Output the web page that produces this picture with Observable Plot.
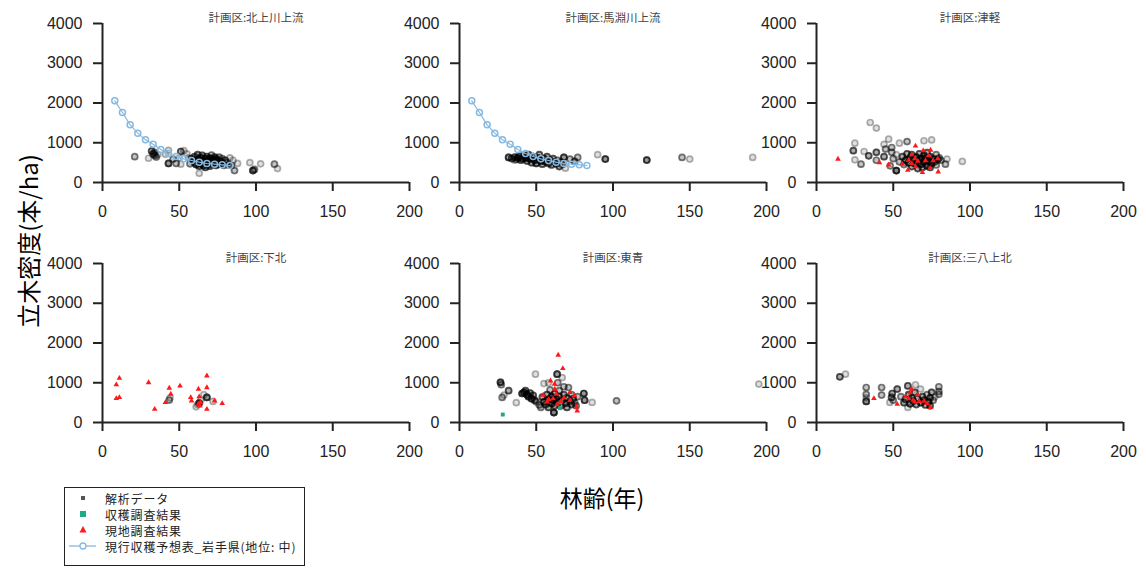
<!DOCTYPE html>
<html>
<head>
<meta charset="utf-8">
<script src="https://cdn.jsdelivr.net/npm/d3@7"></script>
<script src="https://cdn.jsdelivr.net/npm/@observablehq/plot@0.6"></script>
<style>
  html, body { margin: 0; padding: 0; background: #fff; }
  #chart { position: relative; width: 1146px; height: 570px; overflow: hidden; background: #fff; }
  #chart svg.plot-panel { position: absolute; }
  .ytitle { position: absolute; left: 27px; top: 241px; transform: translate(-50%, -50%) rotate(-90deg);
    font-family: "Noto Sans CJK JP", sans-serif; font-size: 24px; color: #000; white-space: nowrap; }
  .xtitle { position: absolute; left: 602px; top: 497px; transform: translate(-50%, -50%);
    font-family: "Noto Sans CJK JP", sans-serif; font-size: 23px; color: #000; white-space: nowrap; }
  .legend { position: absolute; left: 64px; top: 487px; width: 241px; height: 79px; border: 1px solid #222;
    font-family: "Noto Sans CJK JP", sans-serif; font-size: 12px; letter-spacing: 0.8px; color: #222; box-sizing: border-box; }
  .legend .row { position: absolute; left: 0; height: 15px; white-space: nowrap; }
  .legend .row svg { position: absolute; left: 2px; top: -0.5px; }
  .legend .row span { position: absolute; left: 40px; top: 0; display: inline-block; height: 15px; line-height: 15px; overflow: visible; }
</style>
</head>
<body>
<div id="chart"></div>
<script>
// ---------- data ----------
const xTicks = [0, 50, 100, 150, 200];
const yTicks = [0, 1000, 2000, 3000, 4000];
const xTitle = "林齢(年)";
const yTitle = "立木密度(本/ha)";
const seriesNames = ["解析データ", "収穫調査結果", "現地調査結果", "現行収穫予想表_岩手県(地位: 中)"];
const panelTitles = ["計画区:北上川上流", "計画区:馬淵川上流", "計画区:津軽", "計画区:下北", "計画区:東青", "計画区:三八上北"];

// 現行収穫予想表 (岩手県, 地位中): age, density
const tableAge = [8, 13, 18, 23, 28, 33, 38, 43, 48, 53, 58, 63, 68, 73, 78, 83];
const tableDensity = [2054, 1761, 1451, 1241, 1073, 964, 830, 730, 654, 595, 553, 512, 478, 461, 444, 428];

// 解析データ: [age, density, overlapping records]
const analysisKitakami = [
  [21,650,2],[30,610,1],[32,790,3],[33,720,3],[34,680,2],[35,640,2],[34,760,2],[36,700,1],
  [41,710,1],[43,810,1],[43,480,4],[46,590,2],[48,480,2],[51,460,1],[50,620,1],[51,780,3],[53,800,1],[55,720,1],
  [57,470,2],[58,600,3],[59,540,3],[60,650,3],[60,500,2],[61,450,4],[62,580,4],[62,700,3],[63,520,5],[63,410,3],
  [64,620,4],[64,470,4],[65,560,5],[65,680,3],[66,430,4],[66,520,4],[67,600,4],[67,380,3],[68,500,4],[68,650,3],
  [69,450,4],[69,560,4],[70,610,4],[70,410,3],[71,520,4],[71,690,2],[72,470,4],[72,580,4],[73,530,4],[73,640,3],
  [74,430,3],[74,600,3],[75,500,3],[75,560,3],[76,640,2],[76,460,3],[77,540,3],[78,480,3],[78,600,2],[79,430,2],
  [80,560,3],[81,500,2],[82,440,2],[83,620,1],[84,430,2],[85,560,1],[86,300,2],[88,480,1],[63,230,1],[56,620,1],
  [96,500,1],[98,300,4],[99,330,2],[103,470,1],[112,460,2],[114,350,1]
];
const analysisMabechi = [
  [32,630,4],[34,600,3],[36,640,3],[37,580,2],[38,620,4],[39,660,3],[40,560,3],[41,600,4],[42,680,3],[43,620,4],
  [44,540,3],[45,700,3],[46,600,4],[47,500,3],[48,650,4],[49,560,4],[50,480,4],[51,620,4],[52,700,3],[53,540,4],
  [54,460,3],[55,600,4],[56,520,4],[57,650,3],[58,480,3],[59,560,3],[60,440,3],[61,600,3],[62,520,2],[63,470,3],
  [64,560,2],[65,400,3],[66,520,2],[67,450,2],[68,630,4],[69,360,1],[72,590,2],[75,530,3],[77,630,2],[36,560,1],
  [44,600,1],[90,700,1],[95,590,4],[122,565,4],[145,630,2],[150,590,1],[191,630,1]
];
const analysisTsugaru = [
  [35,1510,1],[39,1370,1],[25,990,1],[24,800,3],[25,570,1],[29,460,2],[31,780,1],[34,670,3],[39,760,3],[39,560,2],
  [44,650,3],[45,840,2],[44,960,1],[47,1090,1],[49,880,2],[49,760,2],[48,420,2],[52,300,5],[54,990,1],[59,1030,2],
  [70,1050,1],[75,1070,1],[95,530,1],[85,590,1],[84,460,2],
  [50,600,2],[52,700,1],[54,520,2],[56,650,3],[57,450,2],[58,560,4],[59,720,3],[60,500,4],[61,620,4],[62,400,3],
  [62,700,3],[63,560,4],[64,470,4],[65,640,4],[66,350,3],[66,540,4],[67,720,3],[68,460,4],[68,600,4],[69,380,3],
  [70,680,4],[70,520,4],[71,600,4],[72,420,4],[72,750,3],[73,540,4],[74,650,3],[74,380,3],[75,480,4],[76,600,3],
  [77,520,3],[78,700,2],[78,440,2],[79,580,3],[80,620,2],[81,560,2]
];
const analysisShimokita = [
  [43.5,565,2],[44,620,1],[61,395,1],[63,490,4],[62,450,1],[68,630,4],[66,700,1],[72,530,1],[64,560,1]
];
const analysisToao = [
  [26.7,1010,4],[27.2,950,2],[27.8,630,2],[29,690,1],[32,800,3],[37,500,1],[40.8,730,4],[42,760,4],[43,800,3],
  [44,700,4],[45,650,4],[46,740,3],[47,600,4],[48,680,3],[49,560,3],[50,520,2],[49.5,1215,1],[52,440,2],[53,380,2],
  [54,640,3],[55,520,4],[56,450,3],[57,700,3],[58,580,4],[58,380,3],[59,820,2],[60,650,4],[60,480,4],[61,560,4],
  [61.5,250,5],[62,720,3],[62,420,3],[63,600,4],[63.6,1215,4],[64,1000,2],[64,500,4],[65,800,2],[65,650,3],
  [66,420,3],[66.9,1130,1],[67,560,4],[68,700,3],[68,900,2],[69,480,3],[70,620,3],[70,380,3],[71,880,2],[72,540,3],
  [73,450,3],[73,700,2],[74,600,3],[75,500,2],[76,420,2],[77,650,2],[81,730,4],[81.5,560,4],[86.4,505,1],
  [102.3,545,2],[195,966,1],[55,980,1],[58,1000,1]
];
const analysisSannohe = [
  [15.2,1150,3],[18.9,1215,1],[32.4,880,2],[32.4,710,2],[32.4,620,1],[32.4,530,4],[42.4,880,2],[42.4,690,2],
  [47.8,505,1],[49.3,730,3],[48.9,630,3],[52.6,840,3],[50,560,2],[55,650,2],[57,500,3],[58,580,3],[59.5,920,3],
  [59.5,380,1],[60,700,3],[61,470,4],[62,620,3],[63,540,4],[64.5,950,1],[64,760,3],[65,450,3],[66,600,3],
  [67.8,840,1],[68,500,4],[69,650,3],[70,560,3],[71,440,3],[72,700,2],[73,520,4],[74,620,3],[74,420,3],[75,760,3],
  [76,560,2],[79.7,900,2],[79.7,780,2],[79.7,710,2],[77,640,1]
];

// 収穫調査結果: [age, density]
const harvestToao = [[28.2,200],[65.8,505],[65.4,360]];

// 現地調査結果: [age, density]
const fieldTsugaru = [
  [14,590],[64.5,920],[59.5,310],[69.5,800],[74.3,815],[79.3,270],[69,255],[64,600],[62,480],[64.5,400],
  [71,550],[74,360],[76,550],[79,600],[41,500],[47,445],[56,460],[62,700],[66,540],[60,560],[73,680]
];
const fieldShimokita = [
  [9,950],[11,1115],[9,605],[11,630],[30,1005],[34,335],[43.5,865],[44.5,715],[41,505],[50.5,920],[57.5,630],
  [58,545],[62.5,840],[63,650],[62.5,460],[63.5,420],[68,1175],[68,880],[68,335],[73,545],[78,480],[64,500]
];
const fieldToao = [
  [64.3,1695],[67.3,1360],[59.3,1050],[61.9,965],[62.1,840],[63.2,715],[54.5,690],[58.2,585],[71.9,755],
  [76.2,395],[76.7,295],[72,560],[66,530],[61,600],[63.5,450],[68,620],[57,520],[75,680]
];
const fieldSannohe = [
  [37.4,605],[52.6,460],[74.3,380],[58,650],[60,600],[61,750],[63,560],[64,520],[66,700],[67,530],[70,540],
  [72,480],[62,840]
];

// ---------- build ----------
const COL_TABLE = "#86b9e0";
const COL_FIELD = "#ff1a1a";
const COL_HARVEST = "#22aa88";

const panels = [
  {title: panelTitles[0], analysis: analysisKitakami, harvest: [], field: [], table: true},
  {title: panelTitles[1], analysis: analysisMabechi, harvest: [], field: [], table: true},
  {title: panelTitles[2], analysis: analysisTsugaru, harvest: [], field: fieldTsugaru, table: false},
  {title: panelTitles[3], analysis: analysisShimokita, harvest: [], field: fieldShimokita, table: false},
  {title: panelTitles[4], analysis: analysisToao, harvest: harvestToao, field: fieldToao, table: false},
  {title: panelTitles[5], analysis: analysisSannohe, harvest: [], field: fieldSannohe, table: false}
];
const tableRows = tableAge.map((a, i) => ({age: a, dens: tableDensity[i]}));

const chart = document.getElementById("chart");
const ML = 60, MR = 15, MT = 23, MB = 58, PW = 382, PH = 240;
const colOrigin = [102.3, 459.2, 816];
const rowTop = [0, 239.7];

panels.forEach((p, i) => {
  const col = i % 3, row = Math.floor(i / 3);
  const pts = p.analysis.flatMap(([a, d, n]) => Array.from({length: n}, () => ({age: a, dens: d})));
  const harvest = p.harvest.map(([a, d]) => ({age: a, dens: d}));
  const field = p.field.map(([a, d]) => ({age: a, dens: d}));
  const marks = [
    Plot.ruleY([0], {x1: 0, x2: 200, stroke: "#222", strokeWidth: 2}),
    Plot.ruleX([0], {y1: 0, y2: 4000, stroke: "#222", strokeWidth: 2}),
    Plot.axisX({ticks: xTicks, tickSize: 9, tickPadding: 14, fontSize: 16, strokeWidth: 2, label: null,
      tickFormat: d => String(d), fontFamily: "Liberation Sans, Arial, sans-serif"}),
    Plot.axisY({ticks: yTicks, tickSize: 9, tickPadding: 11, fontSize: 16, strokeWidth: 2, label: null,
      tickFormat: d => String(d), fontFamily: "Liberation Sans, Arial, sans-serif"}),
    Plot.dot(pts, {x: "age", y: "dens", r: 3, stroke: "#000", strokeOpacity: 0.3, strokeWidth: 1.7,
      fill: "#000", fillOpacity: 0.12}),
    Plot.dot(harvest, {x: "age", y: "dens", symbol: "square", r: 2.2, fill: COL_HARVEST}),
    Plot.dot(field, {x: "age", y: "dens", symbol: "triangle", r: 2.1, fill: COL_FIELD})
  ];
  if (p.table) {
    marks.push(Plot.line(tableRows, {x: "age", y: "dens", stroke: COL_TABLE, strokeWidth: 1.2}));
    marks.push(Plot.dot(tableRows, {x: "age", y: "dens", r: 3, stroke: COL_TABLE, strokeWidth: 1.5, fill: "none"}));
  }
  marks.push(Plot.text([p.title], {text: d => d, frameAnchor: "top", dy: -10, fontSize: 11.5, fill: "#444",
    fontFamily: "Noto Sans CJK JP, sans-serif"}));
  const svg = Plot.plot({
    width: PW, height: PH,
    marginLeft: ML, marginRight: MR, marginTop: MT, marginBottom: MB,
    x: {domain: [0, 200]},
    y: {domain: [0, 4000]},
    style: {background: "transparent", overflow: "visible", color: "#222", maxWidth: "none"},
    marks
  });
  svg.classList.add("plot-panel");
  svg.style.left = (colOrigin[col] - ML) + "px";
  svg.style.top = rowTop[row] + "px";
  chart.appendChild(svg);
});

// axis titles
const yt = document.createElement("div");
yt.className = "ytitle"; yt.textContent = yTitle; chart.appendChild(yt);
const xt = document.createElement("div");
xt.className = "xtitle"; xt.textContent = xTitle; chart.appendChild(xt);

// legend
const legend = document.createElement("div");
legend.className = "legend";
const rowYs = [10, 26, 42, 58];
const glyphs = [
  '<svg width="36" height="16"><rect x="14" y="6" width="4" height="4" fill="#555"/></svg>',
  `<svg width="36" height="16"><rect x="13" y="5" width="6" height="6" fill="${COL_HARVEST}"/></svg>`,
  `<svg width="36" height="16"><path d="M16,4 L19.5,10.5 L12.5,10.5 Z" fill="${COL_FIELD}"/></svg>`,
  `<svg width="36" height="16"><line x1="2" y1="8" x2="29" y2="8" stroke="${COL_TABLE}" stroke-width="1.3"/><circle cx="16" cy="8" r="3" fill="#fff" stroke="${COL_TABLE}" stroke-width="1.3"/></svg>`
];
seriesNames.forEach((name, i) => {
  const r = document.createElement("div");
  r.className = "row";
  r.style.top = (rowYs[i] - 7.5) + "px";
  r.innerHTML = glyphs[i] + "<span>" + name + "</span>";
  legend.appendChild(r);
});
chart.appendChild(legend);
</script>
</body>
</html>
